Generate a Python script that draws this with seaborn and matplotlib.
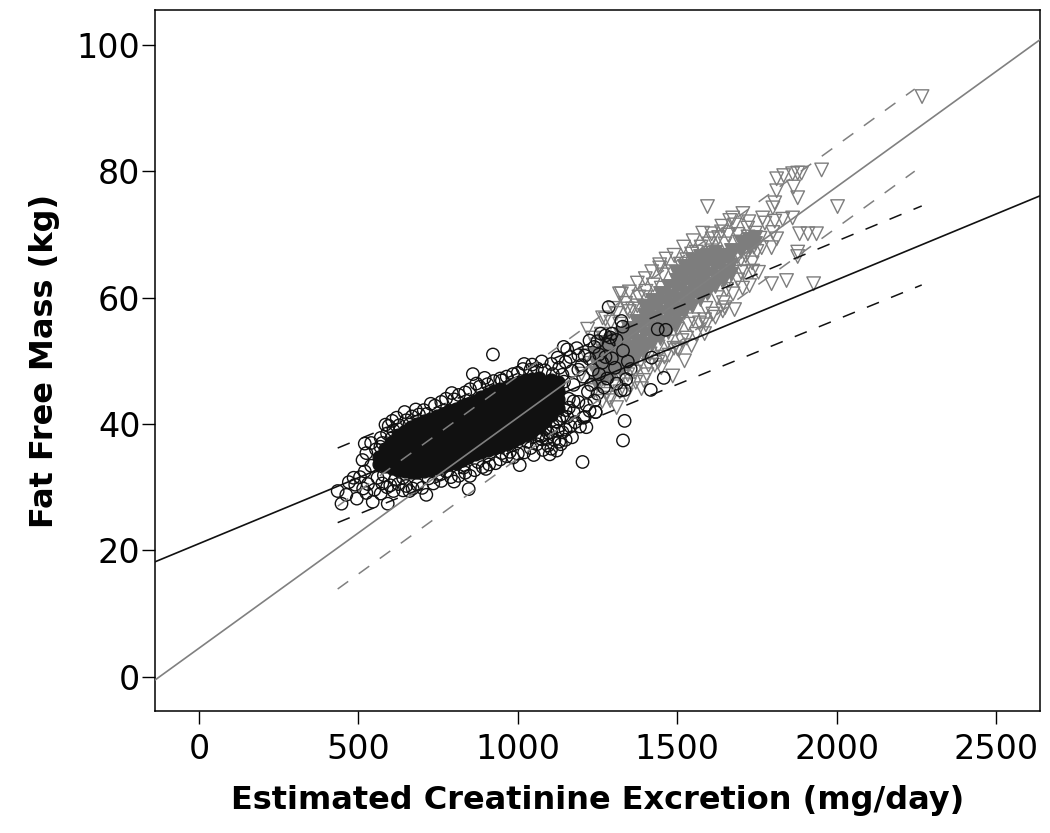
import matplotlib
matplotlib.use('Agg')
import pandas as pd
import seaborn as sns
import matplotlib.pyplot as plt

# dense part of the women's cloud, read column by column (saturates to solid black)
black_core_x = [565, 585, 605, 625, 645, 665, 685, 705, 725, 745, 765, 785, 805, 825, 845,
                865, 885, 905, 925, 945, 965, 985, 1005, 1025, 1045, 1065, 1085, 1105, 1125]
black_core_y = [[33.6, 34.8],
                [33.4, 34.7, 36.1],
                [33.1, 34.4, 35.9, 37.2],
                [32.8, 34.1, 35.6, 37.1, 38.2],
                [32.6, 34.2, 35.7, 37.3, 38.9],
                [32.4, 33.9, 35.5, 37.2, 38.6, 39.6],
                [32.4, 33.8, 35.4, 37, 38.5, 40],
                [32.5, 34, 35.6, 37.2, 38.8, 40.4],
                [32.8, 34.3, 35.9, 37.4, 39, 40.8],
                [33.1, 34.6, 36.1, 37.7, 39.3, 41.2],
                [33.3, 34.8, 36.4, 38, 39.7, 41.6],
                [33.6, 35.2, 36.8, 38.4, 40.1, 42],
                [33.8, 35.5, 37.1, 38.8, 40.5, 42.4],
                [34.3, 35.9, 37.5, 39.2, 41, 42.8],
                [34.8, 36.4, 38, 39.7, 41.4, 43.2],
                [35.2, 36.8, 38.4, 40.1, 41.8, 43.6],
                [35.5, 37.2, 38.8, 40.5, 42.3, 44.2],
                [35.9, 37.6, 39.3, 41, 42.8, 44.7],
                [36.2, 37.9, 39.7, 41.4, 43.3, 45.2],
                [36.5, 38.2, 40, 41.8, 43.7, 45.6],
                [36.8, 38.6, 40.4, 42.2, 44.1, 45.9],
                [37.3, 39.1, 40.9, 42.7, 44.5, 46.3],
                [37.8, 39.6, 41.3, 43.1, 44.9, 46.7],
                [38.3, 40, 41.7, 43.5, 45.2, 46.9],
                [38.9, 40.5, 42.2, 43.9, 45.6, 47.2],
                [39.5, 41.1, 42.7, 44.3, 45.9, 47.3],
                [40.4, 41.9, 43.4, 44.9, 46.3],
                [41.4, 42.9, 44.3, 45.8, 47],
                [42.5, 43.9, 45.3, 46.6]]

# separate circles around the dense part
black_x = [922, 859, 896, 924, 1016, 1144, 793, 727, 645, 606, 585, 603, 569, 525, 513, 485, 435, 462,
           447, 495, 545, 592, 525, 660, 713, 846, 1006, 1203, 1122, 1079, 1244, 1210, 1285, 1325, 1329,
           1260, 1295, 1439, 1464, 1420, 1354, 1458, 1417, 1335, 1323, 1244, 1335, 1330, 1225,
           590, 610, 628, 650, 668, 690, 705, 740, 760, 775, 815, 835, 850, 880, 905, 945, 965, 985,
           1040, 1060, 1085, 1105, 1125, 1150, 1165, 1190,
           560, 575, 600, 625, 650, 685, 700, 735, 760, 790, 815, 835, 865, 890, 910, 945, 965, 985,
           1020, 1040, 1060, 1095, 1115, 1140, 1165, 1180, 1205, 1225,
           1160, 1175, 1190, 1205, 1220, 1235, 1250, 1265, 1280, 1295, 1310, 1175, 1190, 1145, 1210,
           1240, 1255, 1285, 1270, 1305, 1215, 1230, 1255, 1330, 1345, 1290, 1150, 1120, 1095, 1075,
           520, 540, 505, 530, 550, 490, 470, 515, 570, 610, 590, 640, 555, 540, 575, 520,
           570, 595, 620, 660, 680, 715, 580, 615, 640, 670, 720, 750, 775, 800, 830, 850, 875, 900, 930,
           950, 975, 1000, 1030, 1050, 1075, 1105, 1130, 1155, 1170, 1195, 1215, 1240, 1130, 1150, 1100,
           1130, 1110, 1140, 1170, 1200, 1185, 1155, 1225, 1250, 1275, 1275, 1310, 1340, 1000, 950, 870,
           800, 1075, 1020, 1045, 1065, 1085, 1090, 1110, 1125, 1140, 1150, 1160, 1175, 1135, 1105]
black_y = [51.0, 47.9, 47.3, 46.8, 48.7, 52.2, 44.9, 43.2, 41.9, 40.5, 39.9, 37.7, 36.4, 35.4, 34.3, 31.5, 29.4, 28.8,
           27.4, 28.2, 27.7, 27.4, 29.1, 29.4, 28.8, 29.7, 33.5, 34.0, 35.8, 35.9, 41.9, 41.1, 58.5, 56.3, 55.4,
           54.3, 54.3, 55.0, 54.9, 50.5, 48.7, 47.3, 45.4, 45.4, 45.3, 41.9, 40.5, 37.4, 53.2,
           38.5, 39.0, 39.8, 40.6, 41.2, 41.5, 42.2, 42.9, 43.5, 44.0, 44.6, 45.0, 45.5, 45.9, 46.3, 47.2, 47.5, 47.9,
           48.6, 48.8, 48.5, 49.5, 50.5, 49.8, 50.6, 50.9,
           31.5, 30.6, 30.3, 30.5, 30.2, 30.4, 29.9, 30.6, 31.0, 31.6, 31.8, 32.3, 32.7, 33.2, 33.6, 34.4, 34.9, 34.7,
           35.5, 36.2, 36.8, 36.6, 37.5, 38.7, 39.6, 40.3, 41.0, 42.1,
           44.0, 46.2, 43.5, 47.5, 45.1, 48.6, 44.8, 49.7, 47.2, 50.4, 46.4, 41.9, 48.6, 46.7, 50.8,
           52.2, 51.0, 52.6, 45.8, 48.9, 43.0, 46.2, 47.9, 51.6, 49.9, 53.7, 42.2, 40.4, 38.6, 37.6,
           32.5, 33.4, 31.6, 30.5, 29.6, 30.4, 30.8, 29.8, 29.0, 29.4, 30.0, 29.5, 36.0, 37.0, 37.0, 36.9,
           37.8, 39.7, 41.0, 39.9, 42.3, 41.6, 31.9, 31.2, 31.5, 29.8, 31.4, 32.1, 32.5, 30.9, 33.1, 31.8, 34.0, 32.9, 33.8,
           35.4, 35.6, 35.3, 37.2, 35.1, 38.1, 38.7, 37.2, 41.1, 37.9, 39.6, 39.5, 43.7, 40.8, 39.1, 35.2,
           48.9, 47.9, 47.8, 48.4, 49.3, 52.0, 51.8, 50.3, 53.1, 50.6, 54.0, 53.3, 47.1, 48.1, 46.9, 46.4,
           43.9, 49.9, 49.5, 49.4, 38.2, 39.2, 37.6, 39.7, 38.9, 41.3, 37.5, 42.6, 43.6, 36.8, 36.1]

# dense part of the men's cloud
gray_core_x = [1245, 1270, 1295, 1320, 1345, 1370, 1395, 1420, 1445, 1470, 1495, 1520, 1545, 1570, 1595, 1620,
               1645, 1670, 1700, 1725, 1745]
gray_core_y = [[46.5, 48, 49.5, 51],
               [47.2, 48.7, 50.2, 51.6, 53],
               [47.7, 49.1, 50.5, 51.8, 53.4],
               [48.6, 49.8, 51.2, 52.8, 54.3],
               [49.4, 50.7, 52.2, 53.8, 55.2],
               [50.4, 51.8, 53.2, 54.8, 56.3],
               [51.5, 52.7, 54.2, 55.8, 57.3, 58.6],
               [52.6, 53.8, 55.2, 56.8, 58.3, 59.7],
               [53.6, 54.7, 56.2, 57.8, 59.3, 60.8],
               [54.6, 55.8, 57.2, 58.8, 60.3, 61.8],
               [55.6, 56.7, 58.2, 59.8, 61.3, 62.8, 64.1],
               [57.8, 59.2, 60.8, 62.3, 63.7, 65],
               [58.7, 60.2, 61.8, 63.3, 64.6, 65.9],
               [59.8, 61.2, 62.8, 64.3, 65.4, 66.6],
               [60.8, 62.2, 63.8, 65.3, 66.7],
               [61.8, 63.2, 64.8, 66, 67.2],
               [62.8, 64.2, 65.8, 66.8],
               [63.8, 65.2, 66.6, 67.6],
               [67.4, 68.8],
               [68, 69.3],
               [68.6, 69.6]]

gray_x = [1595, 2003, 1953, 2268, 1878, 1812, 1834, 1862, 1890, 1865, 1812, 1878, 1806, 1800, 1768, 1775, 1806,
          1831, 1862, 1800, 1812, 1796, 1765, 1884, 1910, 1937, 1878, 1878, 1796, 1843, 1928, 1737, 1727, 1706,
          1674, 1721, 1639, 1608, 1445, 1608, 1545, 1319, 1344, 1266, 1219, 1523, 1545, 1501, 1586, 1586, 1643,
          1486, 1388, 1288,
          1230, 1245, 1255, 1262, 1278, 1285, 1292, 1305, 1310, 1325, 1330, 1338, 1350, 1360, 1368, 1380, 1385,
          1402, 1405, 1415, 1425, 1430, 1440, 1455, 1460, 1470, 1485, 1490, 1500, 1510, 1515, 1530, 1535, 1550,
          1560, 1570, 1575, 1590, 1600, 1612, 1625, 1630, 1645, 1655, 1660, 1675, 1680, 1690, 1695, 1705, 1710,
          1715, 1722, 1730, 1735, 1745, 1750, 1755, 1760, 1690, 1700, 1725,
          1200, 1215, 1235, 1250, 1265, 1240, 1265, 1290, 1310, 1300, 1320, 1340, 1345, 1370, 1395, 1410, 1440,
          1450, 1475, 1505, 1530, 1560, 1590, 1620, 1650, 1680, 1275, 1300, 1325, 1350, 1375, 1400, 1420, 1445,
          1465, 1490, 1520, 1550, 1580, 1610, 1640, 1665, 1400, 1450, 1500, 1550, 1600, 1650, 1690, 1720, 1740,
          1700, 1660, 1350, 1375, 1320, 1400, 1450, 1500, 1550, 1600, 1650]
gray_y = [74.4, 74.4, 80.2, 91.8, 79.7, 78.8, 79.3, 79.6, 79.7, 77.5, 76.9, 75.8, 75.0, 74.2, 72.6, 71.8, 72.1,
          72.4, 72.6, 70.3, 69.3, 67.9, 67.9, 70.1, 70.1, 70.1, 67.2, 66.5, 62.2, 62.7, 62.2, 64.2, 61.9, 73.3,
          72.6, 71.0, 70.4, 70.1, 64.7, 67.4, 66.9, 60.6, 58.2, 56.8, 55.0, 50.0, 52.4, 51.9, 54.3, 56.5, 57.9,
          47.6, 45.6, 44.1,
          49.6, 52.5, 46.2, 54.2, 44.7, 47.6, 56.1, 45.9, 57.5, 47.4, 48.9, 59.1, 46.2, 58.2, 48.2, 60.1, 49.9,
          61.0, 47.8, 51.1, 62.0, 49.3, 52.2, 63.6, 50.6, 53.0, 64.1, 52.0, 55.0, 65.3, 53.2, 66.0, 55.8, 56.5,
          67.2, 56.0, 68.0, 58.3, 68.5, 57.4, 60.0, 69.5, 59.2, 61.3, 69.9, 60.6, 71.5, 62.8, 68.8, 61.5, 64.1,
          66.6, 69.6, 68.0, 65.5, 70.2, 67.3, 64.0, 69.4, 70.0, 66.0, 72.0,
          47.9, 50.8, 53.6, 49.3, 51.8, 45.3, 43.6, 43.7, 42.6, 46.2, 45.1, 44.6, 47.8, 46.6, 46.9, 49.3, 49.8,
          48.9, 50.9, 51.7, 53.6, 54.2, 55.7, 56.9, 58.4, 58.1, 56.6, 58.3, 60.6, 60.9, 62.3, 63.0, 64.1, 65.2,
          66.1, 66.7, 68.0, 69.0, 70.2, 69.3, 71.3, 72.2, 60.0, 61.5, 64.0, 66.0, 67.0, 68.5, 66.5, 67.0, 68.0,
          64.0, 62.8, 57.8, 58.7, 55.8, 50.8, 54.0, 57.5, 59.5, 61.0, 63.0]

# fit lines and prediction limits, ends
black_fit_x = [-138, 2638]
black_fit_y = [18.2, 76.1]
gray_fit_x = [-138, 2638]
gray_fit_y = [-0.5, 100.8]
black_upper_x = [435, 2267]
black_upper_y = [36.2, 74.5]
black_lower_x = [435, 2267]
black_lower_y = [24.4, 62.0]
gray_upper_x = [435, 2245]
gray_upper_y = [27.0, 93.0]
gray_lower_x = [435, 2245]
gray_lower_y = [13.9, 80.0]

x_ticks = [0, 500, 1000, 1500, 2000, 2500]
y_ticks = [0, 20, 40, 60, 80, 100]

BLACK = '#111111'
GRAY = '#7d7d7d'


def explode_columns(xs, ys):
    rows = [(x, y) for x, col in zip(xs, ys) for y in col]
    return pd.DataFrame(rows, columns=['x', 'y'])


sns.set_style('ticks')
plt.rcParams['font.family'] = ['DejaVu Sans']

f, ax = plt.subplots(figsize=(10.5, 8.33), dpi=100)
f.subplots_adjust(left=155 / 1050, right=1040 / 1050, top=1 - 10 / 833, bottom=1 - 711 / 833)

df_black_core = explode_columns(black_core_x, black_core_y)
df_gray_core = explode_columns(gray_core_x, gray_core_y)
df_black = pd.DataFrame({'x': black_x, 'y': black_y})
df_gray = pd.DataFrame({'x': gray_x, 'y': gray_y})

sns.scatterplot(data=df_black_core, x='x', y='y', marker='o', s=85, color=BLACK,
                edgecolor=BLACK, linewidth=1.0, ax=ax, zorder=2)
sns.scatterplot(data=df_gray_core, x='x', y='y', marker='v', s=95, color=GRAY,
                edgecolor=GRAY, linewidth=1.0, ax=ax, zorder=3)
sns.scatterplot(data=df_gray, x='x', y='y', marker='v', s=95, facecolor='none',
                edgecolor=GRAY, linewidth=1.0, ax=ax, zorder=3)
sns.scatterplot(data=df_black, x='x', y='y', marker='o', s=80, facecolor='none',
                edgecolor=BLACK, linewidth=1.0, ax=ax, zorder=4)

sns.lineplot(x=black_fit_x, y=black_fit_y, color=BLACK, linewidth=1.2, ax=ax, zorder=5)
sns.lineplot(x=gray_fit_x, y=gray_fit_y, color='#808080', linewidth=1.2, ax=ax, zorder=5)
for xs, ys, c in [(black_upper_x, black_upper_y, BLACK), (black_lower_x, black_lower_y, BLACK),
                  (gray_upper_x, gray_upper_y, '#808080'), (gray_lower_x, gray_lower_y, '#808080')]:
    sns.lineplot(x=xs, y=ys, color=c, linewidth=1.1, dashes=(8.5, 8.5), ax=ax, zorder=5)

ax.set_xlim(-138, 2638)
ax.set_ylim(-5.4, 105.5)
ax.set_xticks(x_ticks)
ax.set_yticks(y_ticks)
ax.tick_params(axis='both', length=9.5, width=1.0, labelsize=24, color='black', labelcolor='black')
ax.tick_params(axis='x', pad=6)
ax.tick_params(axis='y', pad=1)
for s in ax.spines.values():
    s.set_visible(True)
    s.set_linewidth(1.1)
    s.set_color('black')
ax.set_xlabel('Estimated Creatinine Excretion (mg/day)', fontsize=23, fontweight='bold',
              color='black', labelpad=14)
ax.set_ylabel('Fat Free Mass (kg)', fontsize=23, fontweight='bold', color='black', labelpad=12)

f.savefig('out.png', dpi=100)
plt.close('all')
